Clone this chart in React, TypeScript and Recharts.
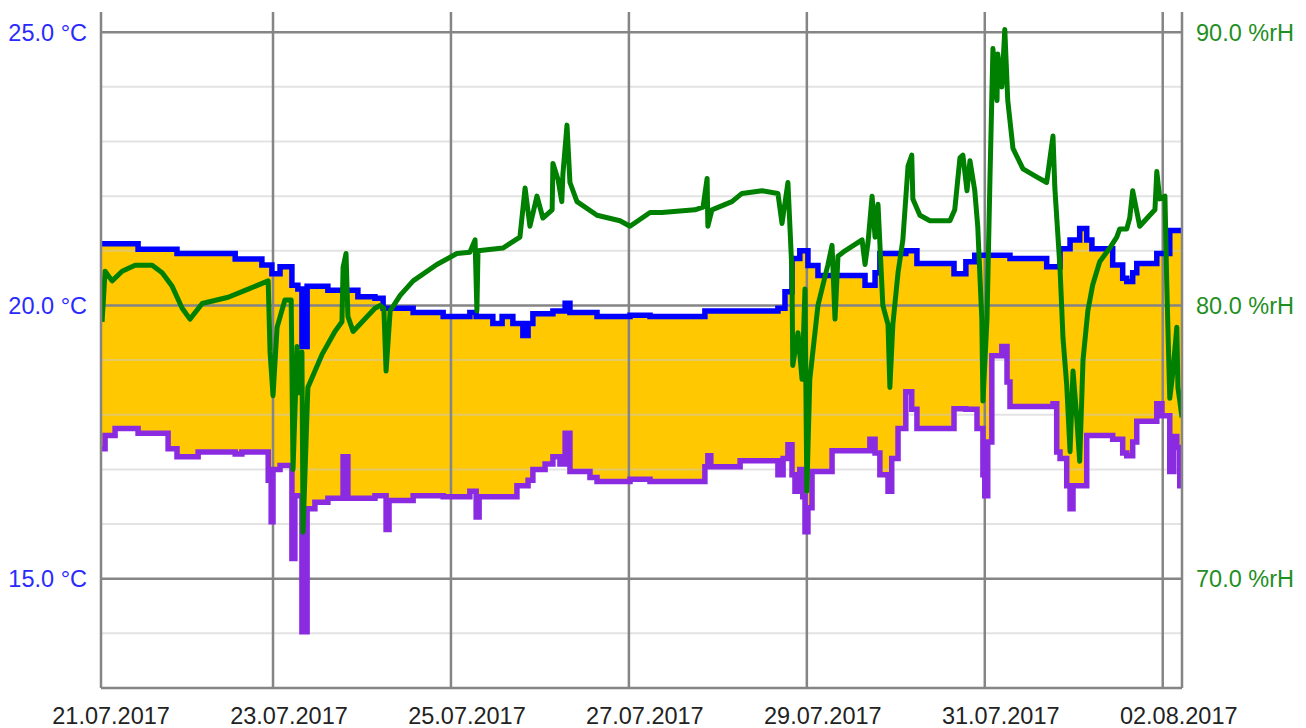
import React from 'react';
import { ComposedChart, Area, Line, XAxis, YAxis, ReferenceLine } from 'recharts';

document.body.style.margin = '0';

// hours since 21.07.2017 00:00
const tempHours = [
  1.6, 2.7, 5.4, 11.6, 19.7, 22.1, 27.8, 37.8, 39.6, 45.0,
  46.7, 47.5, 47.7, 48.0, 49.9, 53.1, 53.9, 54.7, 55.8, 57.2,
  59.3, 62.8, 66.9, 68.2, 70.9, 75.5, 77.7, 78.5, 79.3, 85.8,
  93.9, 101.1, 102.8, 103.6, 107.3, 109.8, 112.7, 113.8, 115.4, 116.8,
  118.1, 121.4, 123.5, 125.4, 126.8, 128.1, 133.5, 135.4, 144.3, 149.7,
  164.5, 165.3, 166.1, 174.0, 184.2, 185.6, 186.1, 186.9, 188.0, 188.8,
  190.1, 190.9, 191.5, 192.3, 193.4, 195.0, 198.8, 207.7, 209.0, 210.4,
  211.7, 213.9, 214.9, 216.6, 218.7, 220.3, 221.7, 231.7, 234.9, 237.3,
  237.9, 239.5, 240.0, 240.8, 241.9, 244.6, 246.0, 246.8, 256.7, 258.4,
  259.4, 260.3, 262.1, 263.0, 263.8, 265.6, 267.5, 268.9, 274.5, 277.2,
  278.3, 279.9, 281.0, 286.4, 287.8, 289.9, 291.0, 291.8, 292.6, 293.2,
];

const tempHigh = [
  21.13, 21.13, 21.13, 21.03, 21.03, 20.95, 20.95, 20.85, 20.85, 20.74,
  20.74, 20.74, 20.58, 20.58, 20.71, 20.37, 20.37, 20.3, 19.25, 20.35,
  20.35, 20.28, 20.28, 20.28, 20.16, 20.13, 19.95, 19.95, 19.95, 19.87,
  19.8, 19.87, 19.8, 19.8, 19.67, 19.8, 19.67, 19.67, 19.45, 19.67,
  19.85, 19.85, 19.9, 19.9, 20.04, 19.87, 19.87, 19.8, 19.82, 19.8,
  19.9, 19.9, 19.9, 19.9, 19.95, 19.95, 20.25, 20.25, 20.86, 20.86,
  21.0, 21.0, 21.0, 20.73, 20.73, 20.55, 20.55, 20.37, 20.37, 20.6,
  20.95, 20.95, 20.95, 20.95, 21.0, 21.0, 20.77, 20.58, 20.8, 20.92,
  20.92, 20.92, 20.92, 20.92, 20.92, 20.92, 20.92, 20.86, 20.71, 20.71,
  20.71, 21.04, 21.04, 21.2, 21.2, 21.41, 21.2, 21.04, 20.74, 20.5,
  20.44, 20.6, 20.77, 20.95, 20.95, 21.37, 21.37, 21.37, 21.37, 21.37,
];

const tempLow = [
  17.38, 17.62, 17.75, 17.66, 17.38, 17.23, 17.32, 17.28, 17.32, 17.32,
  16.8, 16.04, 16.04, 17.0, 17.07, 15.37, 16.52, 16.52, 14.03, 16.28,
  16.4, 16.47, 17.23, 16.47, 16.47, 16.52, 16.52, 15.9, 16.43, 16.52,
  16.5, 16.6, 16.13, 16.5, 16.5, 16.5, 16.5, 16.7, 16.7, 16.8,
  17.0, 17.1, 17.23, 17.1, 17.66, 16.96, 16.85, 16.78, 16.82, 16.78,
  17.05, 17.25, 17.05, 17.16, 16.9, 17.2, 17.2, 17.45, 16.9, 16.6,
  17.0, 16.5, 15.86, 16.3, 16.96, 16.96, 17.34, 17.34, 17.55, 17.3,
  16.9, 16.6, 17.2, 17.75, 18.42, 18.1, 17.75, 18.11, 18.1, 18.1,
  17.75, 16.9, 16.52, 17.5, 19.08, 19.25, 18.6, 18.15, 18.15, 18.2,
  17.32, 17.2, 16.7, 16.28, 16.7, 16.7, 17.62, 17.62, 17.55, 17.3,
  17.25, 17.5, 17.88, 18.2, 17.98, 16.96, 17.6, 17.4, 16.7, 16.7,
];

const rhHours = [
  1.9, 2.7, 4.6, 7.3, 10.8, 15.4, 18.1, 20.8, 23.5, 25.6,
  28.9, 35.9, 41.3, 46.7, 47.2, 48.0, 49.1, 51.2, 52.9, 53.4,
  54.5, 54.7, 55.8, 56.1, 57.4, 61.2, 64.7, 66.6, 66.9, 67.7,
  68.2, 69.6, 75.5, 76.9, 77.9, 78.5, 79.6, 82.3, 85.8, 92.2,
  97.6, 101.1, 102.5, 103.0, 103.3, 110.0, 114.6, 116.0, 117.3, 119.2,
  120.8, 123.3, 123.5, 124.9, 125.9, 126.2, 127.3, 128.1, 130.0, 135.4,
  141.6, 144.3, 149.7, 152.9, 161.8, 164.0, 165.1, 165.3, 166.4, 171.8,
  174.5, 179.9, 184.2, 185.3, 186.9, 188.0, 188.2, 189.6, 190.7, 191.5,
  192.0, 192.8, 195.0, 197.7, 198.8, 199.6, 200.4, 202.3, 206.9, 207.7,
  208.5, 209.6, 210.4, 211.2, 212.5, 213.9, 214.4, 215.2, 216.6, 217.9,
  219.3, 220.3, 220.6, 222.5, 225.2, 230.6, 231.9, 233.3, 234.1, 235.2,
  236.0, 237.3, 238.1, 239.2, 239.5, 240.6, 241.4, 242.2, 243.3, 243.5,
  244.6, 245.4, 246.2, 247.6, 250.3, 254.1, 256.7, 257.6, 258.4, 258.9,
  260.3, 261.1, 262.1, 263.0, 263.8, 264.8, 265.6, 266.5, 267.8, 269.1,
  271.0, 273.7, 275.6, 276.4, 278.3, 279.1, 279.9, 281.8, 284.5, 285.9,
  286.4, 287.2, 288.6, 289.1, 289.9, 290.7, 291.8, 292.1, 293.2,
];

const rhValues = [
  79.4, 81.25, 80.9, 81.25, 81.47, 81.47, 81.2, 80.7, 79.9, 79.5,
  80.07, 80.3, 80.6, 80.9, 78.3, 76.7, 79.2, 80.2, 80.2, 74.0,
  78.5, 76.8, 78.3, 71.7, 77.0, 78.2, 79.05, 79.4, 81.4, 81.9,
  79.6, 79.05, 79.9, 80.0, 79.9, 77.6, 79.8, 80.37, 80.9, 81.5,
  81.9, 81.95, 82.4, 79.8, 82.0, 82.1, 82.5, 84.3, 82.9, 84.0,
  83.2, 83.5, 85.2, 84.6, 83.8, 84.8, 86.6, 84.5, 83.8, 83.3,
  83.1, 82.9, 83.4, 83.4, 83.5, 83.6, 84.65, 82.9, 83.5, 83.8,
  84.1, 84.2, 84.1, 83.0, 84.5, 81.2, 77.8, 79.0, 77.3, 80.6,
  73.2, 77.3, 80.0, 81.5, 82.2, 79.5, 81.8, 82.0, 82.4, 81.5,
  82.3, 84.0, 82.5, 83.7, 80.0, 79.3, 77.0, 79.3, 81.2, 82.4,
  85.1, 85.5, 83.9, 83.3, 83.1, 83.1, 83.5, 85.4, 85.5, 84.2,
  85.3, 84.2, 82.9, 79.5, 76.5, 79.5, 84.65, 89.4, 87.5, 89.2,
  88.0, 90.1, 87.5, 85.75, 85.0, 84.7, 84.5, 85.4, 86.2, 84.3,
  81.35, 78.8, 77.1, 74.65, 77.6, 75.9, 74.3, 78.0, 79.8, 80.75,
  81.6, 82.1, 82.5, 82.8, 82.8, 83.2, 84.2, 82.9, 83.3, 83.5,
  84.9, 83.9, 84.0, 80.75, 76.6, 77.5, 79.2, 77.0, 75.9,
];

const dayTicks = [0, 48, 96, 144, 192, 240, 288];
const dayLabels = ['21.07.2017', '23.07.2017', '25.07.2017', '27.07.2017', '29.07.2017', '31.07.2017', '02.08.2017'];
const tempTicks = [15, 20, 25];
const minorTemps = [14, 16, 17, 18, 19, 21, 22, 23, 24];
const rhTicks = [70, 80, 90];

const tempData = tempHours.map((t, i) => ({
  t,
  hi: tempHigh[i],
  lo: tempLow[i],
  band: [tempLow[i], tempHigh[i]],
}));
const rhData = rhHours.map((t, i) => ({ t, rh: rhValues[i] }));

const GRID = '#858585';
const FONT = '"Liberation Sans", Arial, sans-serif';

export default function App() {
  return (
    <div style={{ width: 1306, height: 728, background: '#fff', fontFamily: FONT }}>
      <ComposedChart
        width={1306}
        height={728}
        data={tempData}
        margin={{ top: 12, right: 0, bottom: 0, left: 0 }}
      >
        <XAxis
          dataKey="t"
          type="number"
          domain={[1.6, 293.2]}
          allowDataOverflow
          ticks={dayTicks}
          interval={0}
          tickFormatter={(v: number) => dayLabels[dayTicks.indexOf(v)] ?? ''}
          tick={{ fill: '#222', fontSize: 23.5, fontFamily: FONT, dx: 16 }}
          tickLine={false}
          tickSize={0}
          tickMargin={19}
          height={40}
          axisLine={{ stroke: GRID, strokeWidth: 2.5 }}
        />
        <YAxis
          yAxisId="t"
          orientation="left"
          type="number"
          domain={[13, 25.37]}
          allowDataOverflow
          ticks={tempTicks}
          width={101}
          tickFormatter={(v: number) => `${v.toFixed(1)} °C`}
          tick={{ fill: '#2a2aff', fontSize: 23.5, fontFamily: FONT }}
          tickLine={false}
          tickSize={0}
          tickMargin={14}
          axisLine={{ stroke: GRID, strokeWidth: 2.5 }}
        />
        <YAxis
          yAxisId="rh"
          orientation="right"
          type="number"
          domain={[66, 90.74]}
          allowDataOverflow
          ticks={rhTicks}
          width={124}
          tickFormatter={(v: number) => `${v.toFixed(1)} %rH`}
          tick={{ fill: '#1f8f1f', fontSize: 23.5, fontFamily: FONT }}
          tickLine={false}
          tickSize={0}
          tickMargin={14}
          axisLine={{ stroke: GRID, strokeWidth: 2.5 }}
        />

        <Area
          yAxisId="t"
          dataKey="band"
          type="stepAfter"
          fill="#ffc800"
          fillOpacity={1}
          stroke="none"
          isAnimationActive={false}
        />

        {minorTemps.map((v) => (
          <ReferenceLine key={`m${v}`} yAxisId="t" y={v} stroke="#c8c8c8" strokeOpacity={0.5} strokeWidth={2} />
        ))}
        {tempTicks.map((v) => (
          <ReferenceLine key={`M${v}`} yAxisId="t" y={v} stroke={GRID} strokeWidth={2.5} />
        ))}
        {dayTicks.slice(1).map((v) => (
          <ReferenceLine key={`d${v}`} yAxisId="t" x={v} stroke={GRID} strokeWidth={2.5} />
        ))}

        <Line
          yAxisId="t"
          dataKey="hi"
          type="stepAfter"
          stroke="#0000ff"
          strokeWidth={5.5}
          dot={false}
          isAnimationActive={false}
        />
        <Line
          yAxisId="t"
          dataKey="lo"
          type="stepAfter"
          stroke="#8a2be2"
          strokeWidth={5.5}
          dot={false}
          isAnimationActive={false}
        />
        <Line
          yAxisId="rh"
          data={rhData}
          dataKey="rh"
          type="linear"
          stroke="#008000"
          strokeWidth={5}
          strokeLinejoin="round"
          dot={false}
          isAnimationActive={false}
        />
      </ComposedChart>
    </div>
  );
}
